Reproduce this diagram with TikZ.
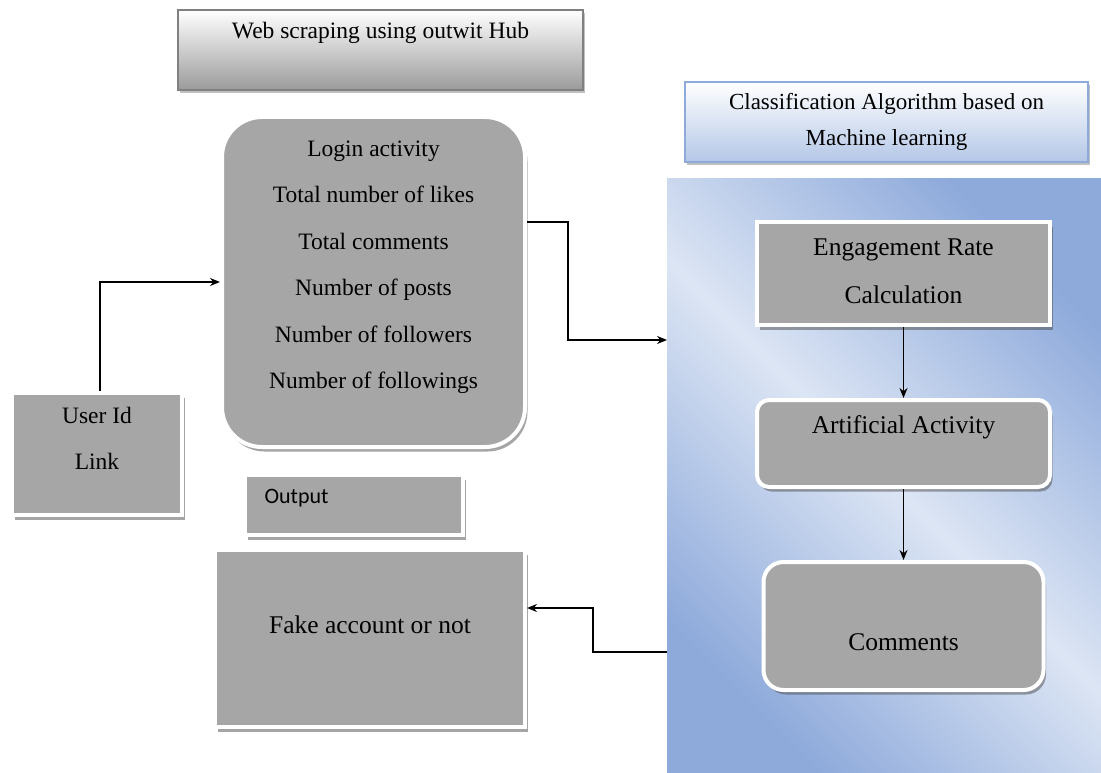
\documentclass[tikz,border=0pt]{standalone}
\usepackage{fontspec}
\setmainfont{Liberation Serif}
\newfontfamily\outfont{Carlito}
\usetikzlibrary{arrows.meta,shadows}
\definecolor{boxgray}{HTML}{A6A6A6}
\definecolor{titlegray}{HTML}{9B9B9B}
\definecolor{titleedge}{HTML}{808080}
\definecolor{clsblue}{HTML}{B4C7E7}
\definecolor{clsedge}{HTML}{8EAADB}
\definecolor{paneldark}{HTML}{8EAADB}
\definecolor{panellight}{HTML}{DCE5F4}
\tikzset{
  graybox/.style={rectangle, fill=boxgray, draw=white, line width=4pt, inner sep=0pt,
    drop shadow={shadow xshift=2.5pt, shadow yshift=-4.5pt, opacity=0.5, fill=black!70}},
  titlebox/.style={rectangle, top color=white, bottom color=titlegray, draw=titleedge, line width=1.5pt, inner sep=0pt,
    drop shadow={shadow xshift=1.5pt, shadow yshift=-3pt, opacity=0.35, fill=black!70}},
  clsbox/.style={rectangle, top color=white, bottom color=clsblue, draw=clsedge, line width=1.5pt, inner sep=0pt, align=center,
    font=\fontsize{23}{36}\selectfont,
    drop shadow={shadow xshift=1.5pt, shadow yshift=-3pt, opacity=0.35, fill=black!70}},
  smalltxt/.style={font=\fontsize{23.5}{46.5}\selectfont, align=center},
  bigtxt/.style={font=\fontsize{25.5}{48}\selectfont, align=center},
  arr/.style={line width=1.6pt, -{Stealth[length=10pt,width=8pt]}}
}
\begin{document}
\begin{tikzpicture}[x=1pt,y=-1pt]
\useasboundingbox (0,0) rectangle (1101,773);
\fill[white] (0,0) rectangle (1101,773);

% title boxes
\node (web) [titlebox, minimum width=405pt, minimum height=80pt,
  label={[font=\fontsize{23.5}{27}\selectfont, yshift=17pt]center:Web scraping using outwit Hub}] at (380.5,50) {};
\node (cls) [clsbox, minimum width=403pt, minimum height=80pt] at (886.5,122)
  {Classification Algorithm based on\\Machine learning};

% blue panel
\node (panel) [rectangle, inner sep=0pt, outer sep=0pt, minimum width=434pt, minimum height=594pt,
  left color=paneldark, right color=paneldark, middle color=panellight, shading angle=-45] at (884,476) {};

% gray boxes
\node (list) [graybox, rounded corners=40pt, minimum width=303pt, minimum height=330pt,
  label={[smalltxt, yshift=14.5pt]center:Login activity\\Total number of likes\\Total comments\\Number of posts\\Number of followers\\Number of followings}] at (373.5,282) {};
\node (user) [graybox, minimum width=170pt, minimum height=122pt,
  label={[smalltxt, yshift=15.5pt]center:User Id\\Link}] at (97,454) {};
\node (out) [graybox, minimum width=218pt, minimum height=60pt,
  label={[anchor=west, xshift=18pt, yshift=7pt]west:{\outfont\fontsize{22}{26}\selectfont Output}}] at (354,505) {};
\node (fake) [graybox, minimum width=310pt, minimum height=177pt,
  label={[bigtxt, yshift=13.5pt]center:Fake account or not}] at (370,638.5) {};

\node (eng) [graybox, minimum width=293pt, minimum height=103pt,
  label={[bigtxt, yshift=2.5pt]center:Engagement Rate\\Calculation}] at (903.5,273.5) {};
\node (art) [graybox, rounded corners=12pt, minimum width=293pt, minimum height=87pt,
  label={[bigtxt, yshift=16pt]center:Artificial Activity}] at (903.5,443.5) {};
\node (com) [graybox, rounded corners=20pt, minimum width=280pt, minimum height=128pt,
  label={[bigtxt, yshift=-16pt]center:Comments}] at (903.5,626) {};

% connectors
\draw[arr] ([xshift=3pt]user.north) |- (list.west);
\draw[arr] ([yshift=60pt]list.east) -- ++(41,0) |- ([yshift=136pt]panel.west);
\draw[arr] (eng.south) -- (art.north);
\draw[arr] (art.south) -- (com.north);
\draw[arr] ([yshift=-176pt]panel.west) -- ++(-74,0) |- ([yshift=30.5pt]fake.east);
\end{tikzpicture}
\end{document}
